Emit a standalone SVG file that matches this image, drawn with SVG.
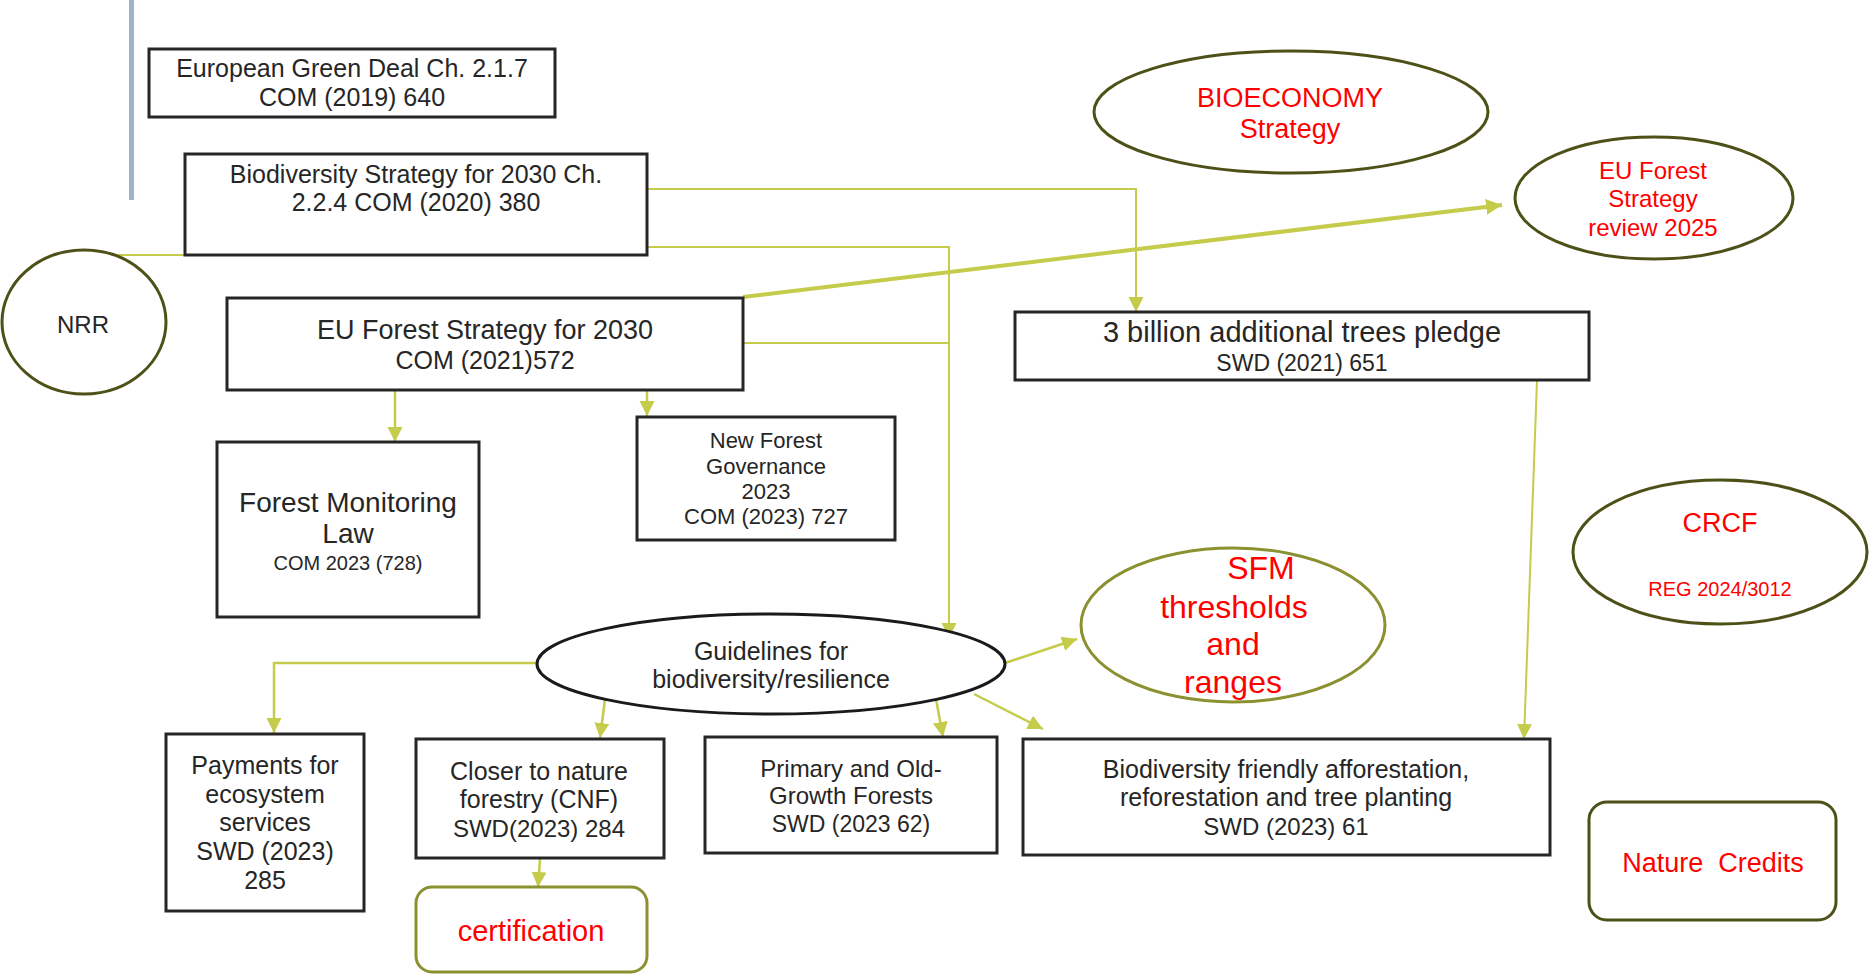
<svg xmlns="http://www.w3.org/2000/svg" width="1872" height="974" viewBox="0 0 1872 974">
<defs>
<marker id="ah" markerUnits="userSpaceOnUse" markerWidth="16" markerHeight="16" refX="15" refY="7.5" orient="auto"><path d="M0,0 L15,7.5 L0,15 z" fill="#c5cb4b"/></marker>
<marker id="ahb" markerUnits="userSpaceOnUse" markerWidth="18" markerHeight="18" refX="16" refY="8" orient="auto"><path d="M0,0 L16,8 L0,16 z" fill="#c5cb4b"/></marker>
</defs>
<style>
.box{fill:#fff;stroke:#262626;stroke-width:3}
.olv{fill:#fff;stroke:#4d5118;stroke-width:3}
.olv2{fill:#fff;stroke:#8b9130;stroke-width:3}
.blk{fill:#fff;stroke:#1a1a1a;stroke-width:3}
.t{font-family:"Liberation Sans",Arial,sans-serif;fill:#262626;text-anchor:middle}
.r{font-family:"Liberation Sans",Arial,sans-serif;fill:#ff0000;text-anchor:middle}
.c{fill:none;stroke:#c5cb4b;stroke-width:2.5}
.cs{fill:none;stroke:#c5cb4b;stroke-width:2}
</style>
<rect x="129" y="0" width="5" height="200" fill="#9eb3cc"/>

<g id="connectors">
<path class="cs" d="M113,255 L205,255"/>
<path class="cs" d="M647,189 L1136,189 L1136,312" marker-end="url(#ah)"/>
<path class="cs" d="M647,247 L949,247 L949,638" marker-end="url(#ah)"/>
<path class="cs" d="M743,343 L949,343"/>
<path class="c" style="stroke-width:4" d="M743,297 L1502,205" marker-end="url(#ahb)"/>
<path class="c" d="M395,390 L395,442" marker-end="url(#ah)"/>
<path class="c" d="M647,390 L647,416" marker-end="url(#ah)"/>
<path class="cs" d="M1537,380 L1524,739" marker-end="url(#ah)"/>
<path class="c" d="M538,663 L274,663 L274,733" marker-end="url(#ah)"/>
<path class="c" d="M605,699 L600,738" marker-end="url(#ah)"/>
<path class="c" d="M936,699 L943,737" marker-end="url(#ah)"/>
<path class="c" d="M974,694 L1043,729" marker-end="url(#ah)"/>
<path class="c" d="M1005,663 L1077,639" marker-end="url(#ah)"/>
<path class="c" d="M540,859 L538,887" marker-end="url(#ah)"/>
</g>

<g id="green-deal">
<rect class="box" x="149" y="49" width="406" height="68"/>
<text class="t" x="352" y="77" font-size="25">European Green Deal Ch. 2.1.7</text>
<text class="t" x="352" y="106" font-size="25">COM (2019) 640</text>
</g>

<g id="biodiversity-strategy">
<rect class="box" x="185" y="154" width="462" height="101"/>
<text class="t" x="416" y="183" font-size="25">Biodiversity Strategy for 2030 Ch.</text>
<text class="t" x="416" y="211" font-size="25">2.2.4 COM (2020) 380</text>
</g>

<g id="nrr">
<ellipse class="olv" cx="84" cy="322" rx="82" ry="72"/>
<text class="t" x="83" y="333" font-size="24">NRR</text>
</g>

<g id="eu-forest-strategy">
<rect class="box" x="227" y="298" width="516" height="92"/>
<text class="t" x="485" y="339" font-size="27">EU Forest Strategy for 2030</text>
<text class="t" x="485" y="369" font-size="25">COM (2021)572</text>
</g>

<g id="bioeconomy">
<ellipse class="olv" cx="1291" cy="112" rx="197" ry="61"/>
<text class="r" x="1290" y="107" font-size="27">BIOECONOMY</text>
<text class="r" x="1290" y="138" font-size="27">Strategy</text>
</g>

<g id="eu-forest-review">
<ellipse class="olv" cx="1654" cy="198" rx="139" ry="61"/>
<text class="r" x="1653" y="179" font-size="24">EU Forest</text>
<text class="r" x="1653" y="207" font-size="24">Strategy</text>
<text class="r" x="1653" y="236" font-size="24">review 2025</text>
</g>

<g id="three-billion">
<rect class="box" x="1015" y="312" width="574" height="68"/>
<text class="t" x="1302" y="342" font-size="29">3 billion additional trees pledge</text>
<text class="t" x="1302" y="371" font-size="23">SWD (2021) 651</text>
</g>

<g id="forest-monitoring">
<rect class="box" x="217" y="442" width="262" height="175"/>
<text class="t" x="348" y="512" font-size="28">Forest Monitoring</text>
<text class="t" x="348" y="543" font-size="28">Law</text>
<text class="t" x="348" y="570" font-size="20">COM 2023 (728)</text>
</g>

<g id="new-forest-governance">
<rect class="box" x="637" y="417" width="258" height="123"/>
<text class="t" x="766" y="448" font-size="22">New Forest</text>
<text class="t" x="766" y="474" font-size="22">Governance</text>
<text class="t" x="766" y="499" font-size="22">2023</text>
<text class="t" x="766" y="524" font-size="22">COM (2023) 727</text>
</g>

<g id="guidelines">
<ellipse class="blk" cx="771" cy="664" rx="234" ry="50"/>
<text class="t" x="771" y="660" font-size="25">Guidelines for</text>
<text class="t" x="771" y="688" font-size="25">biodiversity/resilience</text>
</g>

<g id="sfm">
<ellipse class="olv2" cx="1233" cy="625" rx="152" ry="77"/>
<text class="r" x="1261" y="579" font-size="32">SFM</text>
<text class="r" x="1234" y="618" font-size="32">thresholds</text>
<text class="r" x="1233" y="655" font-size="32">and</text>
<text class="r" x="1233" y="693" font-size="32">ranges</text>
</g>

<g id="crcf">
<ellipse class="olv" cx="1720" cy="552" rx="147" ry="72"/>
<text class="r" x="1720" y="532" font-size="27">CRCF</text>
<text class="r" x="1720" y="596" font-size="20">REG 2024/3012</text>
</g>

<g id="payments">
<rect class="box" x="166" y="734" width="198" height="177"/>
<text class="t" x="265" y="774" font-size="25">Payments for</text>
<text class="t" x="265" y="803" font-size="25">ecosystem</text>
<text class="t" x="265" y="831" font-size="25">services</text>
<text class="t" x="265" y="860" font-size="25">SWD (2023)</text>
<text class="t" x="265" y="889" font-size="25">285</text>
</g>

<g id="cnf">
<rect class="box" x="416" y="739" width="248" height="119"/>
<text class="t" x="539" y="780" font-size="25">Closer to nature</text>
<text class="t" x="539" y="808" font-size="25">forestry (CNF)</text>
<text class="t" x="539" y="837" font-size="24">SWD(2023) 284</text>
</g>

<g id="certification">
<rect class="olv2" x="416" y="887" width="231" height="85" rx="16" ry="16"/>
<text class="r" x="531" y="941" font-size="29">certification</text>
</g>

<g id="primary-old-growth">
<rect class="box" x="705" y="737" width="292" height="116"/>
<text class="t" x="851" y="777" font-size="24">Primary and Old-</text>
<text class="t" x="851" y="804" font-size="24">Growth Forests</text>
<text class="t" x="851" y="832" font-size="23">SWD (2023 62)</text>
</g>

<g id="afforestation">
<rect class="box" x="1023" y="739" width="527" height="116"/>
<text class="t" x="1286" y="778" font-size="25">Biodiversity friendly afforestation,</text>
<text class="t" x="1286" y="806" font-size="25">reforestation and tree planting</text>
<text class="t" x="1286" y="835" font-size="24">SWD (2023) 61</text>
</g>

<g id="nature-credits">
<rect class="olv" x="1589" y="802" width="247" height="118" rx="18" ry="18"/>
<text class="r" x="1713" y="872" font-size="27" style="white-space:pre">Nature  Credits</text>
</g>
</svg>
